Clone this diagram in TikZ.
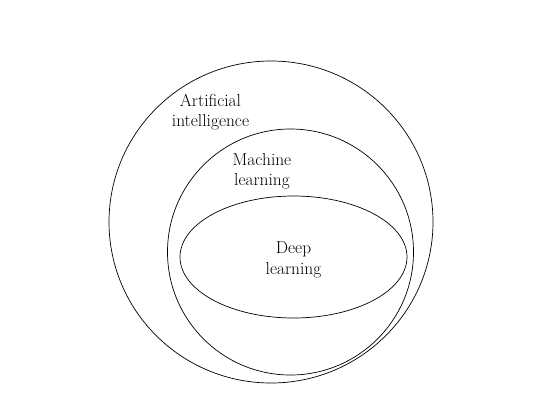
\documentclass[tikz,border=0pt]{standalone}
\begin{document}
\begin{tikzpicture}[x=1pt,y=-1pt,
  ring/.style={draw, line width=0.7pt},
  lbl/.style={align=center, font=\fontsize{17.4}{20.5}\selectfont, inner sep=0pt}]
\useasboundingbox (0,0) rectangle (557,400);
\draw[ring] (271,222) ellipse [x radius=162, y radius=161];
\draw[ring] (290.5,252) circle [radius=123];
\draw[ring] (293.5,257) ellipse [x radius=113.5, y radius=61];
\node[lbl] (ai) at (210.5,112) {Artificial\\intelligence};
\node[lbl] (ml) at (262,171) {Machine\\learning};
\node[lbl] (dl) at (293.5,260) {Deep\\learning};
\end{tikzpicture}
\end{document}
